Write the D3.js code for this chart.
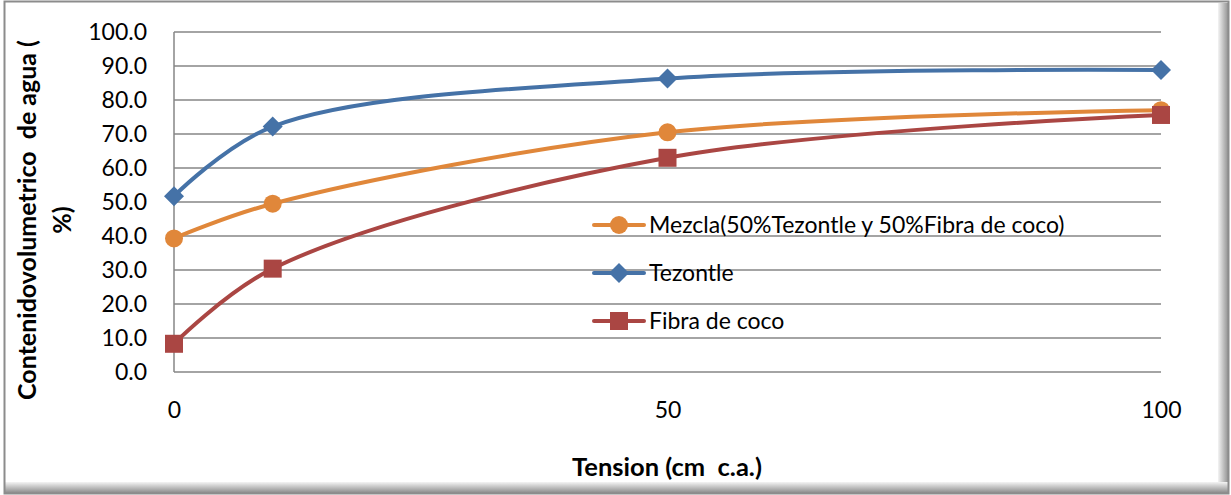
<!DOCTYPE html>
<html><head><meta charset="utf-8">
<script src="https://cdn.jsdelivr.net/npm/d3@7"></script>
<style>body{margin:0;background:#fff}svg{display:block}text{white-space:pre}</style>
</head><body>
<script>
const xValues = [0, 10, 50, 100];
const mezcla = [39.3, 49.5, 70.5, 77.0];
const tezontle = [51.7, 72.2, 86.3, 88.8];
const fibra = [8.3, 30.4, 63.0, 75.6];
const seriesNames = ["Mezcla(50%Tezontle y 50%Fibra de coco)", "Tezontle", "Fibra de coco"];
const yTicks = [0,10,20,30,40,50,60,70,80,90,100];
const xTicks = [0,50,100];

const W = 1231, H = 495;
const font = "Lato, 'Open Sans', sans-serif";
const svg = d3.select("body").append("svg").attr("width", W).attr("height", H);
const defs = svg.append("defs");
const gr = defs.append("linearGradient").attr("id","shR").attr("x1",0).attr("x2",1).attr("y1",0).attr("y2",0);
gr.append("stop").attr("offset",0).attr("stop-color","#f4f4f4");
gr.append("stop").attr("offset",1).attr("stop-color","#8a8a8a");
const gb = defs.append("linearGradient").attr("id","shB").attr("x1",0).attr("x2",0).attr("y1",0).attr("y2",1);
gb.append("stop").attr("offset",0).attr("stop-color","#f4f4f4");
gb.append("stop").attr("offset",1).attr("stop-color","#8a8a8a");

// frame
svg.append("rect").attr("x",0).attr("y",0).attr("width",W).attr("height",H).attr("fill","#fff");
svg.append("rect").attr("x",1218).attr("y",3).attr("width",11).attr("height",490).attr("fill","url(#shR)");
svg.append("rect").attr("x",4).attr("y",482).attr("width",1225).attr("height",11).attr("fill","url(#shB)");
svg.append("rect").attr("x",4.5).attr("y",1.5).attr("width",1224).attr("height",492).attr("fill","none").attr("stroke","#8c8c8c").attr("stroke-width",2);

const L = 174, R = 1161, T = 32, B = 372;
const x = d3.scaleLinear().domain([0,100]).range([L,R]);
const y = d3.scaleLinear().domain([0,100]).range([B,T]);

// grid
svg.append("g").selectAll("line").data(yTicks).join("line")
  .attr("x1",L).attr("x2",R).attr("y1",d=>y(d)).attr("y2",d=>y(d))
  .attr("stroke","#868686").attr("stroke-width",1.5);
svg.append("line").attr("x1",L).attr("x2",L).attr("y1",T).attr("y2",B).attr("stroke","#868686").attr("stroke-width",1.5);

// y axis labels
const yAxis = d3.axisLeft(y).tickValues(yTicks).tickFormat(d3.format(".1f")).tickSize(0).tickPadding(27);
const yg = svg.append("g").attr("transform",`translate(${L},0)`).call(yAxis);
yg.select(".domain").remove();
yg.selectAll("text").attr("font-family",font).attr("font-size",23).attr("fill","#000");

const xAxis = d3.axisBottom(x).tickValues(xTicks).tickFormat(d3.format("d")).tickSize(0).tickPadding(30);
const xg = svg.append("g").attr("transform",`translate(0,${B})`).call(xAxis);
xg.select(".domain").remove();
xg.selectAll("text").attr("font-family",font).attr("font-size",23).attr("fill","#000");

// titles
svg.append("text").attr("x",667).attr("y",476).attr("text-anchor","middle")
  .attr("font-family",font).attr("font-weight","bold").attr("font-size",25.5).text("Tension (cm  c.a.)");
const yt = svg.append("text").attr("transform","translate(0,220) rotate(-90)").attr("text-anchor","middle")
  .attr("font-family",font).attr("font-weight","bold").attr("font-size",25);
yt.append("tspan").attr("x",0).attr("y",36).text("Contenidovolumetrico  de agua (");
yt.append("tspan").attr("x",0).attr("y",71).text("%)");

const colors = ["#E0873A", "#4572A7", "#AA4643"];
const data = [mezcla, tezontle, fibra];
const line = d3.line().x(d=>x(d[0])).y(d=>y(d[1])).curve(d3.curveCatmullRom.alpha(0.5));

function marker(g, i, cx, cy) {
  if (i === 0) g.append("circle").attr("cx",cx).attr("cy",cy).attr("r",9).attr("fill",colors[0]);
  else if (i === 1) g.append("path").attr("d",`M${cx},${cy-10}L${cx+10},${cy}L${cx},${cy+10}L${cx-10},${cy}Z`).attr("fill",colors[1]);
  else g.append("rect").attr("x",cx-9).attr("y",cy-9).attr("width",18).attr("height",18).attr("fill",colors[2]);
}

[1,0,2].forEach(i => {
  const pts = xValues.map((v,k)=>[v,data[i][k]]);
  svg.append("path").attr("d",line(pts)).attr("fill","none").attr("stroke",colors[i]).attr("stroke-width",4).attr("stroke-linecap","round");
});
[1,0,2].forEach(i => {
  const g = svg.append("g");
  xValues.forEach((v,k)=>marker(g,i,x(v),y(data[i][k])));
});

// legend
const legY = [225, 273, 321];
seriesNames.forEach((n,i)=>{
  const g = svg.append("g");
  g.append("line").attr("x1",594).attr("x2",644).attr("y1",legY[i]).attr("y2",legY[i]).attr("stroke",colors[i]).attr("stroke-width",4).attr("stroke-linecap","round");
  marker(g,i,619,legY[i]);
  g.append("text").attr("x",649).attr("y",legY[i]+8).attr("font-family",font).attr("font-size",23).text(n);
});
</script>
</body></html>
